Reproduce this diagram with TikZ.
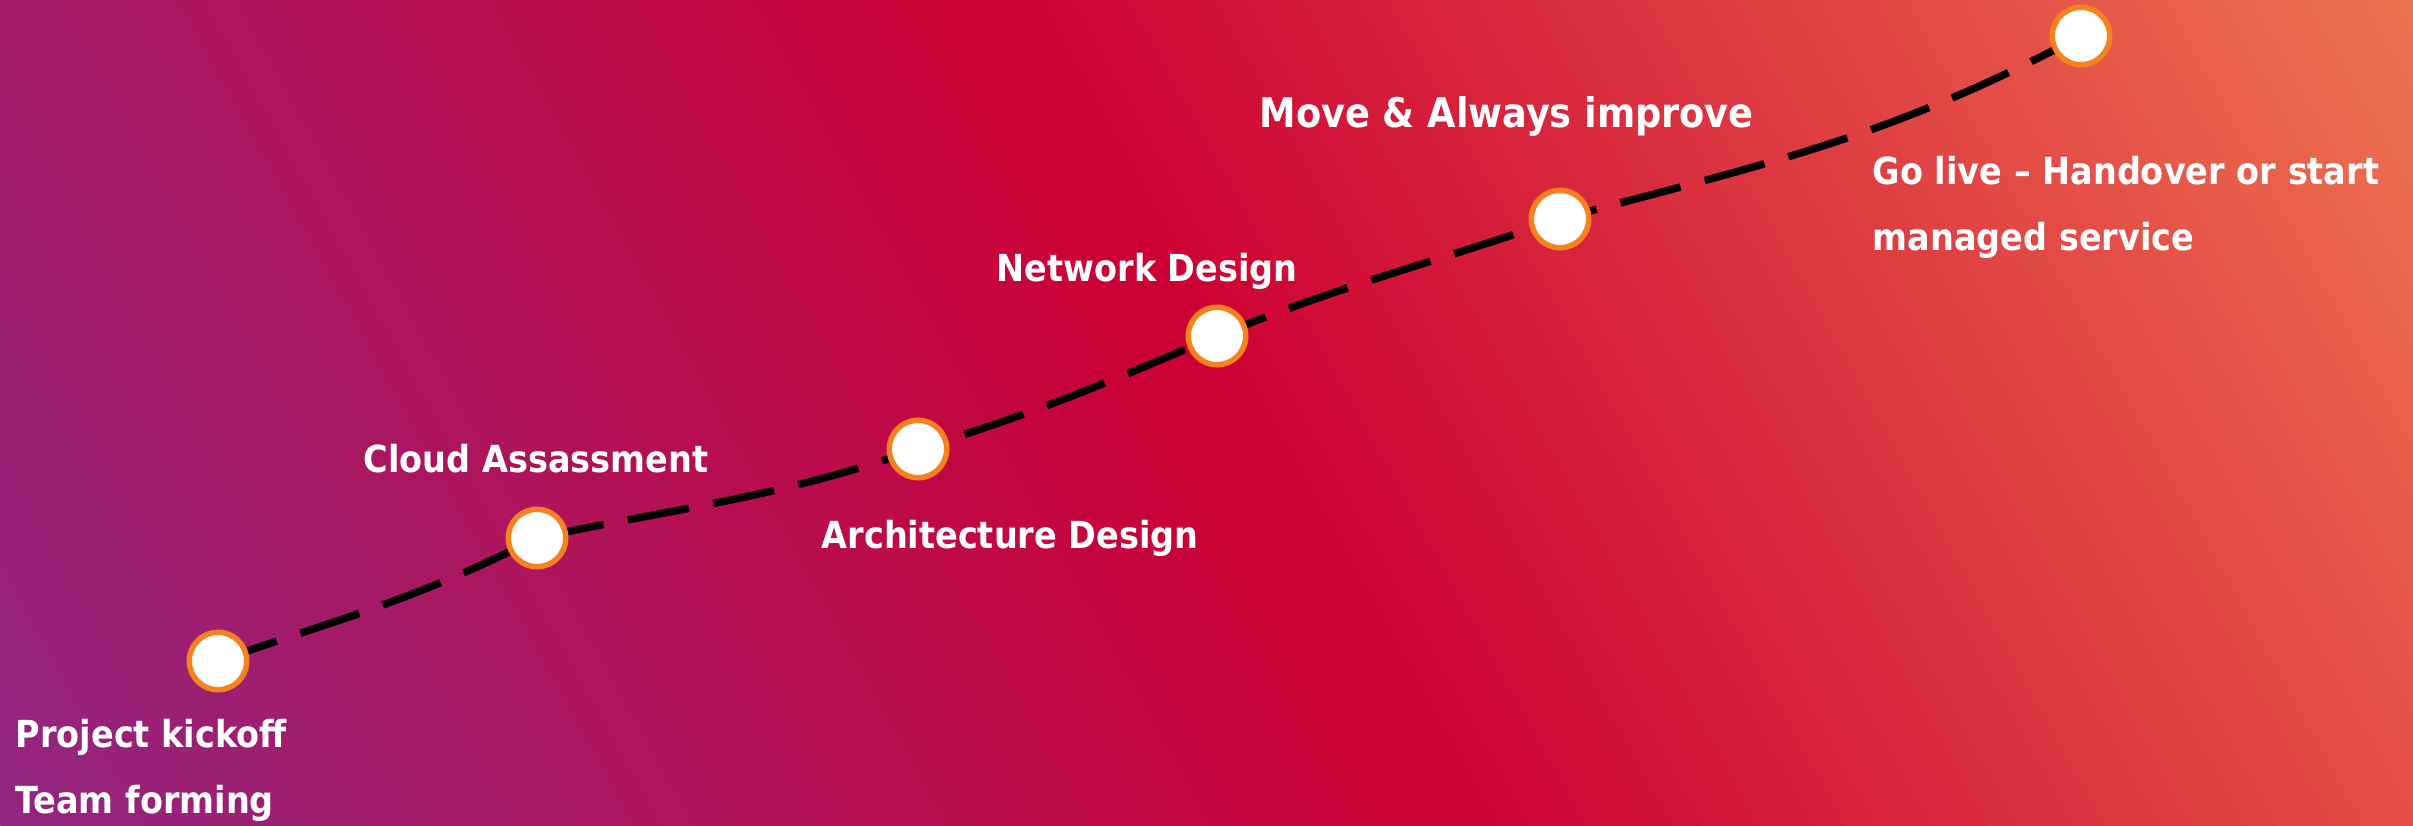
\documentclass[tikz,border=0pt]{standalone}
\usepackage{fontspec}
\newfontfamily\labelfont{DejaVu Sans Condensed}
\usetikzlibrary{positioning}
\pgfdeclarelayer{background layer}
\pgfsetlayers{background layer,main}
\definecolor{bgpurple}{HTML}{922680}
\definecolor{bgcrimson}{HTML}{CC0033}
\definecolor{bgcoral}{HTML}{EF7550}
\definecolor{ringorange}{HTML}{F5821F}

\begin{document}
\begin{tikzpicture}
\tikzstyle{milestone}=[draw=ringorange,circle,fill=white,line width=0.055cm,minimum size=0.575cm,inner sep=0pt]
\tikzstyle{steplabel}=[text=white,inner sep=0pt,anchor=base west,align=left,font=\labelfont\bfseries\fontsize{10.6}{18.5}\selectfont]
\tikzstyle{track}=[line width=0.075cm,dash pattern=on 0.62cm off 0.25cm]
\useasboundingbox (0,0) rectangle (24.13,-8.25);

\node [milestone] at (2.18,-6.61) (m1) {};
\node [milestone] at (5.37,-5.38) (m2) {};
\node [milestone] at (9.18,-4.49) (m3) {};
\node [milestone] at (12.17,-3.36) (m4) {};
\node [milestone] at (15.60,-2.19) (m5) {};
\node [milestone] at (20.81,-0.36) (m6) {};

\node [steplabel] at (0.15,-8.13) (l1) {Project kickoff\\Team forming};
\node [steplabel] at (3.63,-4.72) (l2) {Cloud Assassment};
\node [steplabel] at (8.21,-5.48) (l3) {Architecture Design};
\node [steplabel] at (9.96,-2.81) (l4) {Network Design};
\node [steplabel,font=\labelfont\bfseries\fontsize{11.6}{18.5}\selectfont] at (12.59,-1.27) (l5) {Move \& Always improve};
\node [steplabel] at (18.72,-2.50) (l6) {Go live – Handover or start\\managed service};

\begin{pgfonlayer}{background layer}
\clip (0,0) rectangle (24.13,-8.25);
% diagonal colour ramp
\foreach \k in {0,...,99} {
  \pgfmathsetmacro\t{-4+\k*0.252}
  \ifnum\k<50
    \pgfmathtruncatemacro\p{2*\k}
    \def\stripcol{bgcrimson!\p!bgpurple}
  \else
    \pgfmathtruncatemacro\p{2*(\k-50)}
    \def\stripcol{bgcoral!\p!bgcrimson}
  \fi
  \fill [fill=\stripcol,rotate=29] (\t,-20) rectangle ++(0.27,21.5);
}
\draw [track] (m1.center) to[out=19,in=207] (m2.center) to[out=12,in=199] (m3.center)
  to[out=17,in=203] (m4.center) to[out=22,in=199] (m5.center) to[out=15,in=208] (m6.center);
\end{pgfonlayer}
\end{tikzpicture}
\end{document}
